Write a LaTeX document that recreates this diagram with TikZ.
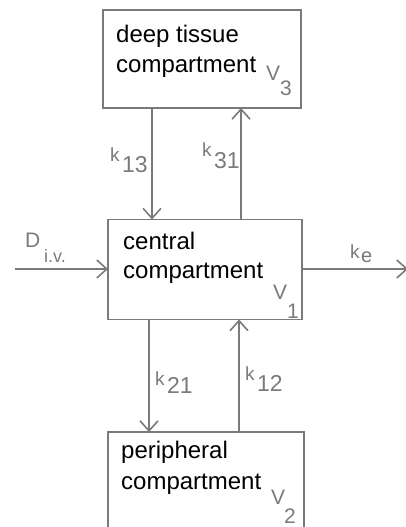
\documentclass[tikz,border=0pt]{standalone}
\usepackage{fontspec}
\setmainfont{Liberation Sans}
\usetikzlibrary{arrows.meta}
\definecolor{lg}{HTML}{7A7A7A}
\tikzset{
  box/.style={draw=lg, line width=1.8pt, rectangle, inner sep=0pt},
  boxtext/.style={anchor=base west, inner sep=0pt, text=black, font=\fontsize{24}{29}\selectfont},
  lbl/.style={anchor=base west, inner sep=0pt, text=lg, font=\fontsize{21}{25}\selectfont},
  sub/.style={anchor=base west, inner sep=0pt, text=lg, font=\fontsize{21}{25}\selectfont},
  flow/.style={draw=lg, line width=1.6pt, -{Straight Barb[length=10pt,width=18pt,line width=1.6pt]}}
}
\begin{document}
\begin{tikzpicture}[x=1pt,y=-1pt]
\useasboundingbox (0,0) rectangle (406,527);
\clip (0,0) rectangle (406,527);
% boxes
\node[box, minimum width=198pt, minimum height=98pt] (deep) at (202,59) {};
\node[box, minimum width=194pt, minimum height=100pt] (cen) at (205,269.5) {};
\node[box, minimum width=196pt, minimum height=110pt] (per) at (206,487) {};
% box texts
\node[boxtext] (t1) at (116,43) {deep tissue};
\node[boxtext] (t2) at (116,72) {compartment};
\node[boxtext] (t3) at (123,249) {central};
\node[boxtext] (t4) at (123,278) {compartment};
\node[boxtext] (t5) at (121,458) {peripheral};
\node[boxtext] (t6) at (121,489) {compartment};
% volume labels
\node[lbl] (v3) at (266,80) {V};
\node[sub] (v3s) at (280,95) {3};
\node[lbl] (v1) at (273,299) {V};
\node[sub] (v1s) at (287,318) {1};
\node[lbl] (v2) at (271,504) {V};
\node[sub] (v2s) at (284,523) {2};
% connection points
\coordinate (a13t) at (152,108);
\coordinate (a13b) at (152,219.5);
\coordinate (a31t) at (241,108);
\coordinate (a31b) at (241,219.5);
\coordinate (a21t) at (149,319.5);
\coordinate (a21b) at (149,432);
\coordinate (a12t) at (239,319.5);
\coordinate (a12b) at (239,432);
\coordinate (inA) at (15,269);
\coordinate (inB) at (108,269);
\coordinate (outA) at (302,269);
\coordinate (outB) at (408,269);
% arrows
\draw[flow] (a13t) -- (a13b);
\draw[flow] (a31b) -- (a31t);
\draw[flow] (a21t) -- (a21b);
\draw[flow] (a12b) -- (a12t);
\draw[flow] (inA) -- (inB);
\draw[flow] (outA) -- (outB);
% rate labels
\node[lbl, font=\fontsize{19}{22}\selectfont] (k13) at (110,161) {k};
\node[sub, font=\fontsize{23}{25}\selectfont] (k13s) at (122,172) {13};
\node[lbl, font=\fontsize{19}{22}\selectfont] (k31) at (202,156) {k};
\node[sub, font=\fontsize{23}{25}\selectfont] (k31s) at (214,168) {31};
\node[lbl, font=\fontsize{19}{22}\selectfont] (k21) at (155,385) {k};
\node[sub, font=\fontsize{23}{25}\selectfont] (k21s) at (167,393) {21};
\node[lbl, font=\fontsize{19}{22}\selectfont] (k12) at (245,380) {k};
\node[sub, font=\fontsize{23}{25}\selectfont] (k12s) at (257,391) {12};
\node[lbl, font=\fontsize{19}{22}\selectfont] (ke) at (350,258) {k};
\node[sub, font=\fontsize{20}{22}\selectfont] (kes) at (361,262) {e};
\node[lbl] (D) at (25,247) {D};
\node[sub, font=\fontsize{18}{20}\selectfont] (Ds) at (44,262) {i.v.};
\end{tikzpicture}
\end{document}
